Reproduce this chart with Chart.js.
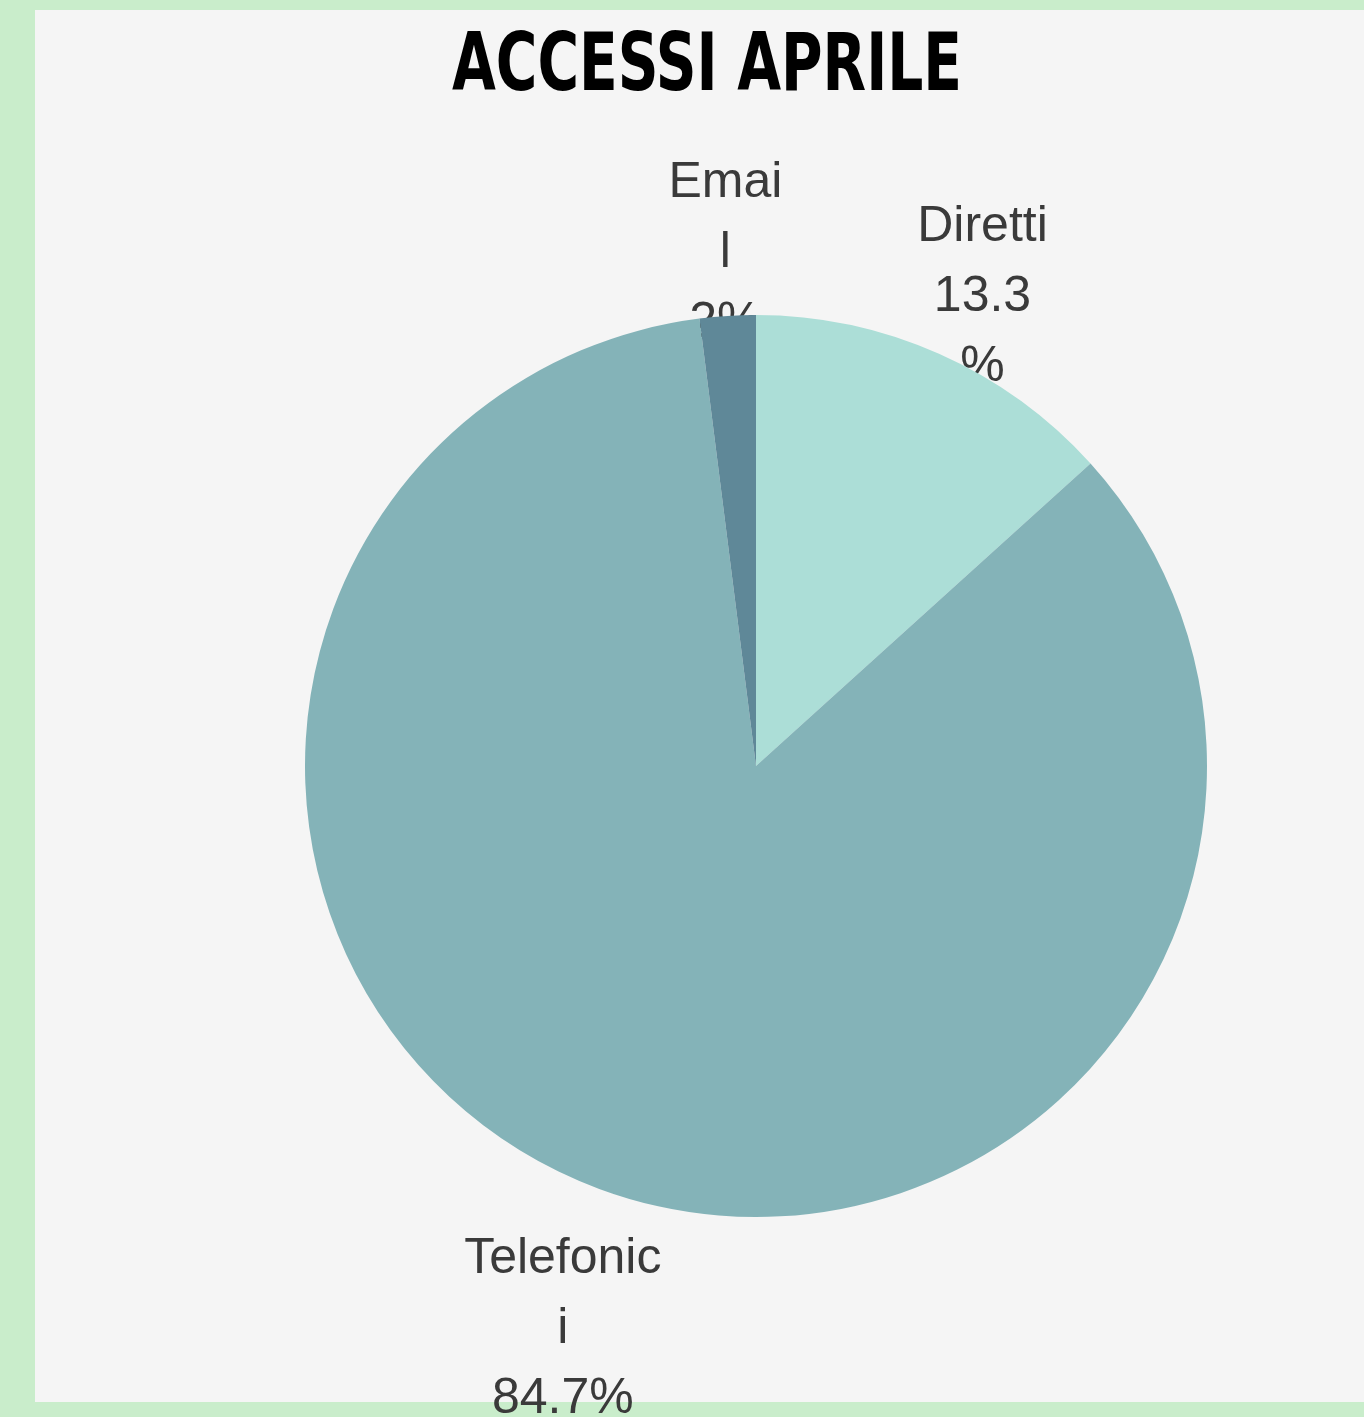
<!DOCTYPE html>
<html>
<head>
<meta charset="utf-8">
<script src="https://cdn.jsdelivr.net/npm/chart.js@4.4.1/dist/chart.umd.min.js"></script>
<style>
  html, body { margin: 0; padding: 0; background: #c9edcb; }
  #wrap { width: 1364px; height: 1417px; position: relative; }
  canvas { display: block; }
</style>
</head>
<body>
<div id="wrap"><canvas id="c" width="1364" height="1417"></canvas></div>
<script>
// ---- data ----
const chartTitle = "ACCESSI APRILE";
const categories = ["Diretti", "Telefonici", "Email"];
const values = [13.3, 84.7, 2];
const labelLines = [["Diretti", "13.3", "%"], ["Telefonic", "i", "84.7%"], ["Emai", "l", "2%"]];
const sliceColors = ["#acded7", "#84b3b8", "#5f8898"];

const frameGreen = "#c9edcb";
const innerBg = "#f5f5f5";

const backgroundPlugin = {
  id: "bg",
  beforeDraw(chart) {
    const ctx = chart.ctx;
    ctx.save();
    ctx.fillStyle = frameGreen;
    ctx.fillRect(0, 0, chart.width, chart.height);
    ctx.fillStyle = innerBg;
    ctx.fillRect(35, 10, chart.width - 35, chart.height - 10 - 15);
    // title (condensed by horizontal scaling)
    ctx.fillStyle = "#000000";
    ctx.font = "bold 80px 'DejaVu Sans Condensed', 'DejaVu Sans', sans-serif";
    ctx.textAlign = "center";
    ctx.textBaseline = "alphabetic";
    const w = ctx.measureText(chartTitle).width;
    const sx = 510 / w;
    ctx.translate(707, 90);
    ctx.scale(sx, 1);
    ctx.fillText(chartTitle, 0, 0);
    ctx.restore();
  }
};

const sliceLabelPlugin = {
  id: "sliceLabels",
  beforeDatasetsDraw(chart) {
    const ctx = chart.ctx;
    const meta = chart.getDatasetMeta(0);
    ctx.save();
    ctx.fillStyle = "#3a3a3a";
    ctx.font = "50px 'Liberation Sans', Arial, sans-serif";
    ctx.textAlign = "center";
    ctx.textBaseline = "middle";
    const lineH = 70;
    meta.data.forEach((arc, i) => {
      const p = arc.getProps(["x", "y", "startAngle", "endAngle", "outerRadius"], true);
      const mid = (p.startAngle + p.endAngle) / 2;
      const s = Math.sin(mid);
      const c = Math.cos(mid);
      const dist = p.outerRadius * (s < 0 ? 1.16 : 1.31);
      const cx = p.x + c * dist + 35 * Math.abs(c);
      const cy = p.y + s * dist + 9;
      const lines = labelLines[i];
      const n = lines.length;
      lines.forEach((t, k) => {
        ctx.fillText(t, cx, cy + (k - (n - 1) / 2) * lineH);
      });
    });
    ctx.restore();
  }
};

new Chart(document.getElementById("c"), {
  type: "pie",
  data: {
    labels: categories,
    datasets: [{
      data: values,
      backgroundColor: sliceColors,
      borderWidth: 0
    }]
  },
  options: {
    responsive: false,
    animation: false,
    devicePixelRatio: 1,
    layout: { padding: { left: 305, right: 157, top: 315, bottom: 200 } },
    plugins: {
      legend: { display: false },
      tooltip: { enabled: false },
      title: { display: false }
    }
  },
  plugins: [backgroundPlugin, sliceLabelPlugin]
});
</script>
</body>
</html>
